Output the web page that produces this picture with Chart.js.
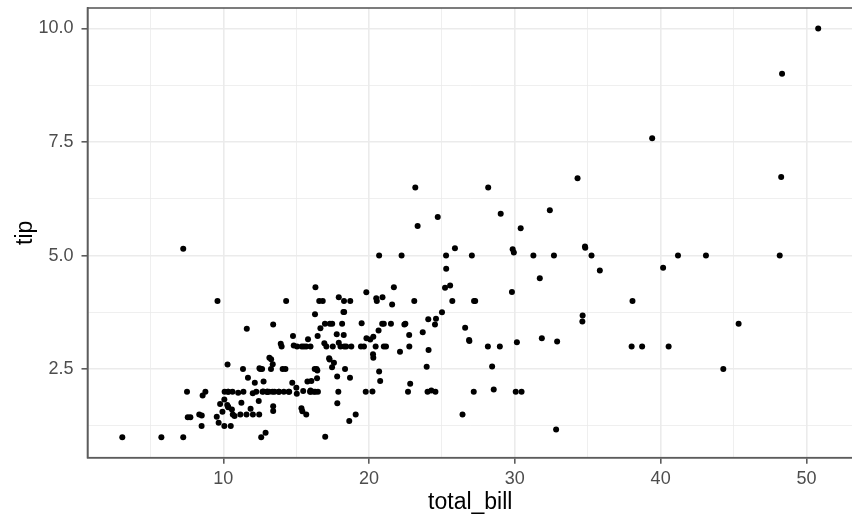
<!DOCTYPE html>
<html>
<head>
<meta charset="utf-8">
<script src="https://cdn.jsdelivr.net/npm/chart.js@4.4.1/dist/chart.umd.min.js"></script>
<style>
  html, body { margin: 0; padding: 0; background: #fff; overflow: hidden; }
  #wrap { width: 856px; height: 516px; }
</style>
</head>
<body>
<div id="wrap"><canvas id="grafico" width="856" height="516"></canvas></div>
<script>
// --- Datos (tips) ---
const totalBill = [16.99,10.34,21.01,23.68,24.59,25.29,8.77,26.88,15.04,14.78,10.27,35.26,15.42,18.43,14.83,21.58,10.33,16.29,16.97,20.65,
  17.92,20.29,15.77,39.42,19.82,17.81,13.37,12.69,21.7,19.65,9.55,18.35,15.06,20.69,17.78,24.06,16.31,16.93,18.69,31.27,
  16.04,17.46,13.94,9.68,30.4,18.29,22.23,32.4,28.55,18.04,12.54,10.29,34.81,9.94,25.56,19.49,38.01,26.41,11.24,48.27,
  20.29,13.81,11.02,18.29,17.59,20.08,16.45,3.07,20.23,15.01,12.02,17.07,26.86,25.28,14.73,10.51,17.92,27.2,22.76,17.29,
  19.44,16.66,10.07,32.68,15.98,34.83,13.03,18.28,24.71,21.16,28.97,22.49,5.75,16.32,22.75,40.17,27.28,12.03,21.01,12.46,
  11.35,15.38,44.3,22.42,20.92,15.36,20.49,25.21,18.24,14.31,14.0,7.25,38.07,23.95,25.71,17.31,29.93,10.65,12.43,24.08,
  11.69,13.42,14.26,15.95,12.48,29.8,8.52,14.52,11.38,22.82,19.08,20.27,11.17,12.26,18.26,8.51,10.33,14.15,16.0,13.16,
  17.47,34.3,41.19,27.05,16.43,8.35,18.64,11.87,9.78,7.51,14.07,13.13,17.26,24.55,19.77,29.85,48.17,25.0,13.39,16.49,
  21.5,12.66,16.21,13.81,17.51,24.52,20.76,31.71,10.59,10.63,50.81,15.81,7.25,31.85,16.82,32.9,17.89,14.48,9.6,34.63,
  34.65,23.33,45.35,23.17,40.55,20.69,20.9,30.46,18.15,23.1,15.69,19.81,28.44,15.48,16.58,7.56,10.34,43.11,13.0,13.51,
  18.71,12.74,13.0,16.4,20.53,16.47,26.59,38.73,24.27,12.76,30.06,25.89,48.33,13.27,28.17,12.9,28.15,11.59,7.74,30.14,
  12.16,13.42,8.58,15.98,13.42,16.27,10.09,20.45,13.28,22.12,24.01,15.69,11.61,10.77,15.53,10.07,12.6,32.83,35.83,29.03,
  27.18,22.67,17.82,18.78];
const tip = [1.01,1.66,3.5,3.31,3.61,4.71,2.0,3.12,1.96,3.23,1.71,5.0,1.57,3.0,3.02,3.92,1.67,3.71,3.5,3.35,
  4.08,2.75,2.23,7.58,3.18,2.34,2.0,2.0,4.3,3.0,1.45,2.5,3.0,2.45,3.27,3.6,2.0,3.07,2.31,5.0,
  2.24,2.54,3.06,1.32,5.6,3.0,5.0,6.0,2.05,3.0,2.5,2.6,5.2,1.56,4.34,3.51,3.0,1.5,1.76,6.73,
  3.21,2.0,1.98,3.76,2.64,3.15,2.47,1.0,2.01,2.09,1.97,3.0,3.14,5.0,2.2,1.25,3.08,4.0,3.0,2.71,
  3.0,3.4,1.83,5.0,2.03,5.17,2.0,4.0,5.85,3.0,3.0,3.5,1.0,4.3,3.25,4.73,4.0,1.5,3.0,1.5,
  2.5,3.0,2.5,3.48,4.08,1.64,4.06,4.29,3.76,4.0,3.0,1.0,4.0,2.55,4.0,3.5,5.07,1.5,1.8,2.92,
  2.31,1.68,2.5,2.0,2.52,4.2,1.48,2.0,2.0,2.18,1.5,2.83,1.5,2.0,3.25,1.25,2.0,2.0,2.0,2.75,
  3.5,6.7,5.0,5.0,2.3,1.5,1.36,1.63,1.73,2.0,2.5,2.0,2.74,2.0,2.0,5.14,5.0,3.75,2.61,2.0,
  3.5,2.5,2.0,2.0,3.0,3.48,2.24,4.5,1.61,2.0,10.0,3.16,5.15,3.18,4.0,3.11,2.0,2.0,4.0,3.55,
  3.68,5.65,3.5,6.5,3.0,5.0,3.5,2.0,3.5,4.0,1.5,4.19,2.56,2.02,4.0,1.44,2.0,5.0,2.0,2.0,
  4.0,2.01,2.0,2.5,4.0,3.23,3.41,3.0,2.03,2.23,2.0,5.16,9.0,2.5,6.5,1.1,3.0,1.5,1.44,3.09,
  2.2,3.48,1.92,3.0,1.58,2.5,2.0,3.0,2.72,2.88,2.0,3.0,3.39,1.47,3.0,1.25,1.0,1.17,4.67,5.92,
  2.0,2.0,1.75,3.0];

// --- Ejes ---
const xMajor = [10, 20, 30, 40, 50];
const xMinor = [5, 15, 25, 35, 45];
const yMajor = [2.5, 5.0, 7.5, 10.0];
const yMinor = [1.25, 3.75, 6.25, 8.75];
const yTickLabels = ["2.5", "5.0", "7.5", "10.0"];
const xRange = [0.683, 53.197];
const yRange = [0.55, 10.45];

const FONT = "'Liberation Sans', Arial, sans-serif";
const GRID = "#ebebeb";
const BORDE = "#5c5c5c";

function ticksDe(mayores, menores) {
  return mayores.concat(menores).sort((a, b) => a - b).map(v => ({ value: v }));
}

// borde superior/derecho del panel
const bordePanel = {
  id: "bordePanel",
  afterDatasetsDraw(chart) {
    const { ctx, chartArea: a } = chart;
    ctx.save();
    ctx.strokeStyle = BORDE;
    ctx.lineWidth = 1.6;
    ctx.strokeRect(a.left, a.top, a.right - a.left, a.bottom - a.top);
    ctx.restore();
  }
};

const puntos = totalBill.map((x, i) => ({ x: x, y: tip[i] }));

new Chart(document.getElementById("grafico").getContext("2d"), {
  type: "scatter",
  data: {
    datasets: [{
      data: puntos,
      backgroundColor: "#000",
      borderWidth: 0,
      pointRadius: 3,
      pointHoverRadius: 3
    }]
  },
  options: {
    responsive: false,
    animation: false,
    layout: { padding: { left: 0, right: 2.5, top: 8, bottom: 0 } },
    plugins: { legend: { display: false }, tooltip: { enabled: false } },
    scales: {
      x: {
        type: "linear",
        min: xRange[0],
        max: xRange[1],
        afterBuildTicks: s => { s.ticks = ticksDe(xMajor, xMinor); },
        afterFit: s => { s.height = 58.3; s.paddingLeft = 0; s.paddingRight = 0; },
        grid: {
          color: c => GRID,
          lineWidth: c => xMajor.includes(c.tick && c.tick.value) ? 1.6 : 0.8,
          tickColor: c => xMajor.includes(c.tick && c.tick.value) ? BORDE : "rgba(0,0,0,0)",
          tickLength: 6,
          tickWidth: 1.6
        },
        border: { display: true, color: BORDE, width: 1.6 },
        ticks: {
          autoSkip: false,
          maxRotation: 0,
          padding: 5,
          color: "#4d4d4d",
          font: { family: FONT, size: 18 },
          callback: v => xMajor.includes(v) ? String(v) : ""
        },
        title: {
          display: true,
          text: "total_bill",
          color: "#000",
          font: { family: FONT, size: 23, lineHeight: 1 },
          padding: { top: 0, bottom: 2 }
        }
      },
      y: {
        type: "linear",
        min: yRange[0],
        max: yRange[1],
        afterBuildTicks: s => { s.ticks = ticksDe(yMajor, yMinor); },
        afterFit: s => { s.width = 87.5; s.paddingTop = 0; s.paddingBottom = 0; },
        grid: {
          color: c => GRID,
          lineWidth: c => yMajor.includes(c.tick && c.tick.value) ? 1.6 : 0.8,
          tickColor: c => yMajor.includes(c.tick && c.tick.value) ? BORDE : "rgba(0,0,0,0)",
          tickLength: 6,
          tickWidth: 1.6
        },
        border: { display: true, color: BORDE, width: 1.6 },
        ticks: {
          autoSkip: false,
          padding: 8,
          color: "#4d4d4d",
          font: { family: FONT, size: 18 },
          callback: v => {
            const i = yMajor.indexOf(v);
            return i >= 0 ? yTickLabels[i] : "";
          }
        },
        title: {
          display: true,
          text: "tip",
          color: "#000",
          font: { family: FONT, size: 23, lineHeight: 1 },
          padding: { top: 14, bottom: 0 }
        }
      }
    }
  },
  plugins: [bordePanel]
});
</script>
</body>
</html>
